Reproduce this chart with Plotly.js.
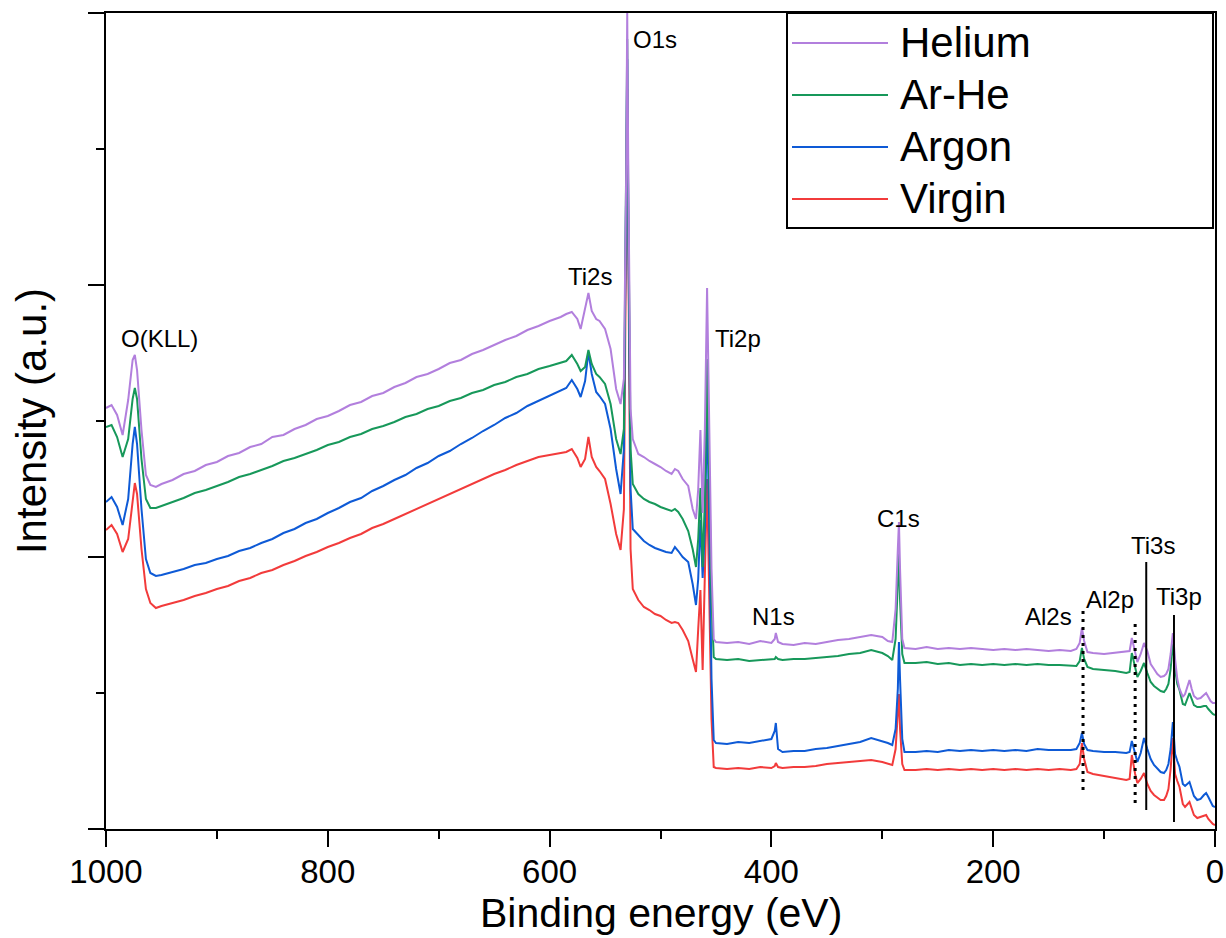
<!DOCTYPE html>
<html>
<head>
<meta charset="utf-8">
<script src="https://cdn.plot.ly/plotly-3.0.1.min.js"></script>
<style>html,body{margin:0;padding:0;background:#fff;}#chart{width:1226px;height:938px;}</style>
</head>
<body>
<div id="chart"></div>
<script>
// Binding energy grid (eV), shared by all spectra
const energy = [
  1000, 995, 990, 985, 980, 976, 974, 972, 968, 964, 960, 955,
  950, 940, 930, 920, 910, 900, 890, 880, 870, 860, 850, 840, 830, 820, 810, 800, 790, 780,
  770, 760, 750, 740, 730, 720, 710, 700, 690, 680, 670, 660, 650, 640, 630, 620, 610, 600,
  590, 585, 580, 575, 572, 568, 565, 562, 558, 555, 550, 545, 540, 536, 533, 531, 530, 529,
  527, 525, 520, 515, 510, 505, 500, 495, 490, 487, 484, 480, 475, 471, 468, 466, 464, 462,
  460, 458, 456, 454, 452,
  450, 440, 430, 420, 410, 400, 397, 396, 394, 390, 380, 370, 360, 350, 340, 330, 320, 310,
  300, 295, 291, 288, 286, 285, 284, 282, 280,
  270, 260, 250, 240, 230, 220, 210, 200, 190, 180, 170, 160, 150, 140, 130,
  125, 122, 120, 118, 115, 110, 100, 90, 80,
  77, 75, 72, 70, 67, 64, 61, 58, 55, 52, 49, 46, 44, 42, 40, 38, 36, 34, 32, 29, 27, 23,
  21, 19, 16, 13, 10, 8, 6, 4, 2, 0
];

// Intensities (a.u.)
const helium = [
  421, 424, 414, 394, 429, 469, 474, 459, 399, 354, 344, 342,
  345, 349, 355, 358, 364, 367, 373, 376, 382, 385, 392, 394, 400, 404, 410, 413, 418, 424,
  427, 433, 436, 442, 446, 452, 455, 460, 466, 469, 475, 479, 484, 489, 493, 499, 503, 508,
  512, 515, 517, 510, 500, 520, 536, 518, 510, 508, 500, 480, 440, 425, 450, 650, 816, 650,
  420, 390, 375, 372, 368, 365, 362, 358, 355, 360, 358, 350, 343, 320, 310, 340, 399, 316,
  400, 541, 420, 260, 190,
  187, 186, 187, 185, 188, 186, 190, 196, 187, 185, 184, 186, 185, 187, 189, 190, 192, 194,
  192, 188, 187, 220, 280, 307, 260, 190, 181,
  180, 182, 180, 181, 180, 181, 180, 179, 180, 179, 180, 179, 178, 179, 178,
  180, 186, 201, 188, 177, 176, 175, 176, 177,
  178, 191, 175, 167, 175, 186, 178, 165, 160, 155, 152, 153, 155, 160, 175, 196, 170, 150, 140, 132, 135, 149,
  140, 133, 130, 131, 134, 136, 132, 128, 126, 126
];
const arHe = [
  402, 404, 392, 372, 390, 430, 441, 430, 370, 330, 321, 321,
  323, 327, 331, 336, 339, 343, 347, 352, 355, 359, 363, 368, 371, 375, 379, 384, 387, 392,
  395, 400, 403, 407, 412, 415, 420, 423, 428, 431, 436, 439, 444, 447, 452, 455, 460, 463,
  466, 468, 474, 465, 458, 462, 479, 465, 455, 452, 445, 425, 390, 375, 400, 620, 790, 620,
  380, 345, 335, 330, 327, 325, 322, 320, 318, 320, 317, 310, 298, 280, 262, 290, 341, 262,
  330, 470, 360, 230, 172,
  170, 169, 170, 168, 169, 170, 170, 172, 170, 169, 170, 170, 171, 172, 173, 175, 176, 179,
  176, 173, 169, 190, 240, 275, 230, 175, 166,
  166, 167, 165, 166, 164, 165, 164, 165, 164, 165, 164, 165, 164, 164, 163,
  163, 168, 181, 170, 162, 160, 159, 158, 156,
  157, 176, 160, 152, 158, 166, 156, 147, 143, 140, 138, 137, 140, 145, 160, 186, 160, 145, 139, 125, 124, 136,
  130, 124, 122, 122, 123, 123, 120, 117, 115, 114
];
const argon = [
  327, 332, 322, 304, 330, 385, 402, 385, 320, 270, 256, 253,
  254, 257, 260, 264, 266, 270, 273, 278, 281, 286, 290, 296, 300, 306, 310, 316, 321, 327,
  331, 338, 343, 349, 354, 361, 366, 373, 378, 385, 391, 398, 404, 411, 416, 423, 428, 433,
  438, 441, 449, 440, 432, 448, 477, 455, 437, 433, 425, 400, 360, 335, 380, 600, 770, 600,
  340, 300, 294, 288, 284, 281, 279, 277, 276, 282, 278, 272, 267, 245, 224, 250, 309, 251,
  300, 420, 300, 150, 89,
  86, 85, 87, 86, 88, 90, 98, 106, 80, 77, 78, 78, 80, 81, 83, 85, 87, 91,
  88, 86, 84, 100, 140, 187, 150, 90, 77,
  77, 78, 77, 79, 78, 79, 78, 79, 78, 79, 78, 80, 79, 79, 79,
  80, 86, 96, 85, 79, 78, 77, 77, 76,
  77, 88, 75, 67, 76, 91, 80, 70, 64, 60, 57, 56, 59, 65, 80, 107, 75, 68, 62, 45, 43, 47,
  40, 33, 29, 30, 34, 36, 32, 27, 23, 22
];
const virgin = [
  299, 304, 295, 277, 290, 330, 346, 335, 280, 240, 226, 221,
  223, 226, 229, 233, 236, 240, 243, 248, 251, 256, 259, 264, 268, 273, 277, 282, 286, 291,
  295, 301, 305, 310, 315, 320, 325, 330, 335, 340, 345, 350, 355, 359, 364, 368, 372, 374,
  376, 377, 380, 371, 362, 370, 392, 372, 362, 358, 350, 325, 295, 279, 320, 580, 740, 580,
  280, 240, 229, 222, 219, 215, 213, 209, 206, 207, 206, 199, 188, 170, 157, 200, 239, 159,
  260, 350, 230, 110, 62,
  61, 60, 61, 60, 62, 61, 63, 66, 62, 61, 62, 62, 63, 65, 66, 67, 68, 69,
  67, 65, 64, 80, 110, 135, 100, 65, 59,
  59, 60, 59, 60, 59, 60, 59, 60, 59, 60, 59, 60, 59, 60, 59,
  60, 65, 86, 70, 57, 55, 53, 51, 49,
  50, 74, 55, 46, 50, 56, 45, 38, 34, 31, 29, 29, 33, 40, 60, 91, 55, 48, 42, 25, 22, 27,
  20, 14, 11, 12, 13, 14, 10, 7, 5, 4
];

const seriesNames = ['Helium', 'Ar-He', 'Argon', 'Virgin'];
const seriesValues = [helium, arHe, argon, virgin];
const seriesColors = ['#B27FDD', '#17985A', '#0E5AD6', '#F23B3B'];

// Peak labels
const peakLabels = ['O(KLL)', 'Ti2s', 'O1s', 'Ti2p', 'N1s', 'C1s', 'Al2s', 'Al2p', 'Ti3s', 'Ti3p'];
const peakLabelE = [952, 564, 505, 430, 398, 285, 150, 95, 56, 32.5];
const peakLabelY = [491, 553, 790, 491, 213, 311, 213, 230, 284, 233];

// Marker lines for Al2s, Al2p, Ti3s, Ti3p
const markerE = [119, 72, 62, 37];
const markerTop = [219, 206, 267, 214];
const markerBottom = [39, 26, 19, 7];
const markerDotted = [true, true, false, false];

const traces = [];
for (let i = seriesNames.length - 1; i >= 0; i--) {
  traces.push({
    type: 'scatter', mode: 'lines', name: seriesNames[i],
    x: energy, y: seriesValues[i],
    line: {color: seriesColors[i], width: 2},
    hoverinfo: 'skip'
  });
}

const shapes = [];
const annotations = [];
markerE.forEach((e, i) => {
  shapes.push({
    type: 'line', xref: 'x', yref: 'y', x0: e, x1: e, y0: markerBottom[i], y1: markerTop[i],
    line: {color: '#000', width: markerDotted[i] ? 3 : 2, dash: markerDotted[i] ? '3px,5px' : 'solid'}
  });
});
peakLabels.forEach((t, i) => {
  annotations.push({
    xref: 'x', yref: 'y', x: peakLabelE[i], y: peakLabelY[i], text: t, showarrow: false,
    xanchor: 'center', yanchor: 'middle', font: {size: 24, color: '#000'}
  });
});

// Manual legend (box, line samples, labels)
const PL = 106, PW = 1109, PB = 829, PH = 816;
const px = v => (v - PL) / PW;
const py = v => (PB - v) / PH;
shapes.push({type: 'rect', xref: 'paper', yref: 'paper', x0: px(787), x1: px(1213), y0: py(228), y1: py(13),
  line: {color: '#000', width: 2}, fillcolor: 'rgba(0,0,0,0)'});
const rowY = [43, 95, 147, 199];
seriesNames.forEach((n, i) => {
  shapes.push({type: 'line', xref: 'paper', yref: 'paper', x0: px(792), x1: px(888), y0: py(rowY[i]), y1: py(rowY[i]),
    line: {color: seriesColors[i], width: 2}});
  annotations.push({xref: 'paper', yref: 'paper', x: px(898), y: py(rowY[i]), text: n, showarrow: false,
    xanchor: 'left', yanchor: 'middle', font: {size: 42, color: '#000'}});
});

// X-axis title (placed as annotation so it can sit near the bottom edge, as in the original)
annotations.push({xref: 'paper', yref: 'paper', x: 0.5, y: py(913), text: 'Binding energy (eV)', showarrow: false,
  xanchor: 'center', yanchor: 'middle', font: {size: 41, color: '#000'}});

const axisCommon = {
  showline: true, linewidth: 2, linecolor: '#000', mirror: true,
  ticks: 'outside', ticklen: 16, tickwidth: 2, tickcolor: '#000',
  showgrid: false, zeroline: false
};

const layout = {
  width: 1226, height: 938,
  margin: {l: 106, r: 11, t: 13, b: 109, pad: 0},
  paper_bgcolor: '#fff', plot_bgcolor: '#fff',
  font: {family: 'Liberation Sans, Arial, sans-serif', color: '#000'},
  showlegend: false,
  xaxis: Object.assign({}, axisCommon, {
    range: [1000, 0], tick0: 0, dtick: 200,
    tickfont: {size: 33},
    ticklabelstandoff: -4,
    minor: {dtick: 100, ticks: 'outside', ticklen: 8, tickwidth: 2, tickcolor: '#000', showgrid: false}
  }),
  yaxis: Object.assign({}, axisCommon, {
    range: [0, 816], tick0: 0, dtick: 272, showticklabels: false,
    minor: {dtick: 136, ticks: 'outside', ticklen: 8, tickwidth: 2, tickcolor: '#000', showgrid: false},
    title: {text: 'Intensity (a.u.)', font: {size: 42}, standoff: 28}
  }),
  shapes: shapes,
  annotations: annotations
};

Plotly.newPlot('chart', traces, layout, {displayModeBar: false, staticPlot: true});
</script>
</body>
</html>
